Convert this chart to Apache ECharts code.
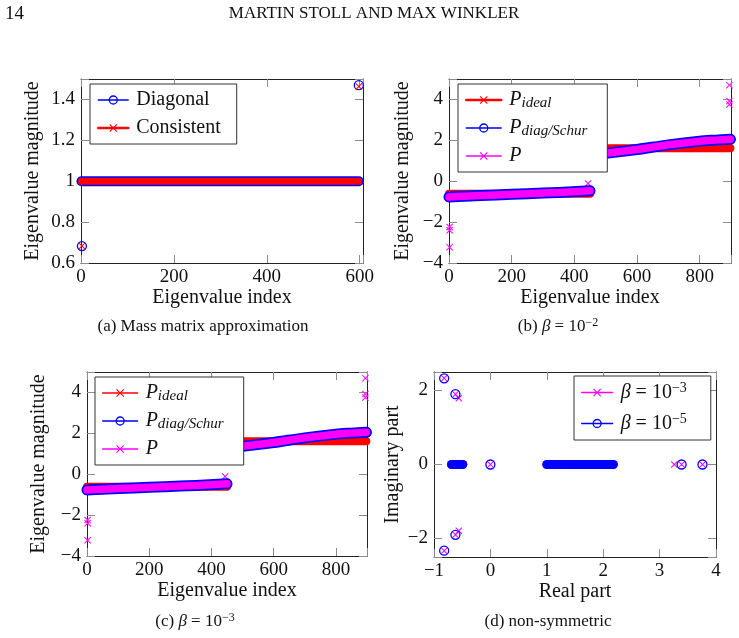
<!DOCTYPE html>
<html>
<head>
<meta charset="utf-8">
<style>
  html, body { margin: 0; padding: 0; background: #fff; }
  #chart { width: 739px; height: 638px; }
</style>
<script src="https://cdn.jsdelivr.net/npm/echarts@6/dist/echarts.min.js"></script>
</head>
<body>
<div id="chart"></div>
<script>
var FONT = '"Liberation Serif", "DejaVu Serif", serif';
var RED = '#ff0000', BLUE = '#0000ff', MAG = '#ff00ff';
var CROSS = 'path://M0,1L1,0L5,4L9,0L10,1L6,5L10,9L9,10L5,6L1,10L0,9L4,5Z';

// (a) mass matrix approximation: dense run of eigenvalues at 1 plus two outliers
var massBand = [[1, 1], [598, 1]];
var diagOut = [[2, 0.683], [598, 1.47]];
var consOut = [[2, 0.683], [598, 1.463]];

// (b) and (c): key points read along the dense eigenvalue bands
var idealNeg = [[0, -0.618], [450, -0.618]];
var idealPos = [[450, 1.618], [898, 1.618]];
var diagNeg = [[0, -0.77], [50, -0.73], [150, -0.67], [250, -0.61], [350, -0.55], [450, -0.47]];
var diagPos = [[450, 1.3], [520, 1.4], [600, 1.55], [700, 1.78], [800, 1.96], [850, 2.01], [898, 2.05]];
var diagEnds = [[0, -0.77], [450, -0.47], [898, 2.05]];
var pOut = [[2, -2.24], [2, -2.4], [2, -3.23], [444, -0.11], [895, 3.75], [895, 3.92], [895, 4.7]];

// (d) non-symmetric: real/imaginary parts
var clusterL = [[-0.69, 0], [-0.49, 0]];
var clusterR = [[1.0, 0], [2.18, 0]];
var b3Pts = [[-0.82, 2.33], [-0.62, 1.9], [-0.56, 1.79], [-0.82, -2.33], [-0.62, -1.9], [-0.56, -1.79],
             [0, 0], [3.26, 0], [3.39, 0], [3.76, 0]];
var b5Pts = [[-0.82, 2.33], [-0.62, 1.9], [-0.62, -1.9], [-0.82, -2.33], [0, 0], [3.39, 0], [3.76, 0]];

var grids = [
  {left: 81, top: 79, width: 282, height: 184},
  {left: 449, top: 79, width: 282, height: 184},
  {left: 87, top: 372, width: 280, height: 184},
  {left: 434, top: 372, width: 282, height: 185}
];

function tickFmt(step) {
  return function (v) {
    var r = v / step;
    if (Math.abs(r - Math.round(r)) > 1e-6) return '';
    return String(parseFloat(v.toFixed(2))).replace('-', '\u2212');
  };
}

var xAxes = [], yAxes = [];
var nameStyle = {fontFamily: FONT, fontSize: 20, color: '#111'};

function addAxes(gi, xs, ys, xName, yName, yGap) {
  function base(pos, s) {
    return {
      gridIndex: gi, type: 'value', position: pos,
      min: s.min, max: s.max, interval: s.interval, splitNumber: s.split,
      splitLine: {show: false},
      axisLine: {show: true, onZero: false, lineStyle: {color: '#222', width: 1}},
      axisTick: {show: true, inside: true, length: 8, lineStyle: {color: '#8c8c8c', width: 1}},
      axisLabel: {show: false}
    };
  }
  var xb = base('bottom', xs);
  xb.axisLabel = {show: true, margin: 5, color: '#111', fontFamily: FONT, fontSize: 19, formatter: tickFmt(xs.step)};
  xb.name = xName; xb.nameLocation = 'middle'; xb.nameGap = 24; xb.nameTextStyle = nameStyle;
  var yl = base('left', ys);
  yl.axisLabel = {show: true, margin: 6, color: '#111', fontFamily: FONT, fontSize: 19, formatter: tickFmt(ys.step)};
  yl.name = yName; yl.nameLocation = 'middle'; yl.nameGap = yGap; yl.nameTextStyle = nameStyle;
  xAxes.push(xb, base('top', xs));
  yAxes.push(yl, base('right', ys));
}

addAxes(0, {min: 0, max: 607, interval: 200, step: 200}, {min: 0.6, max: 1.5, interval: 0.2, step: 0.2},
  'Eigenvalue index', 'Eigenvalue magnitude', 38);
addAxes(1, {min: 0, max: 900, interval: 200, step: 200}, {min: -4, max: 5, interval: 2, step: 2},
  'Eigenvalue index', 'Eigenvalue magnitude', 36);
addAxes(2, {min: 0, max: 900, interval: 200, step: 200}, {min: -4, max: 5, interval: 2, step: 2},
  'Eigenvalue index', 'Eigenvalue magnitude', 38);
addAxes(3, {min: -1, max: 4, interval: 1, step: 1}, {min: -2.5, max: 2.5, split: 3, step: 2},
  'Real part', 'Imaginary part', 31);

function band(gi, data, color, width, name, symbol) {
  return {
    type: 'line', name: name, xAxisIndex: 2 * gi, yAxisIndex: 2 * gi, data: data,
    symbol: symbol || 'none', showSymbol: false, smooth: 0.3, clip: false, silent: true,
    color: color,
    lineStyle: {color: color, width: width, cap: 'round', join: 'round'},
    itemStyle: {color: color}
  };
}
function circles(gi, data) {
  return {
    type: 'scatter', xAxisIndex: 2 * gi, yAxisIndex: 2 * gi, data: data, clip: false, silent: true,
    symbol: 'circle', symbolSize: 9,
    itemStyle: {color: 'rgba(0,0,0,0)', borderColor: BLUE, borderWidth: 1.3, opacity: 1}
  };
}
function crosses(gi, data, color) {
  return {
    type: 'scatter', xAxisIndex: 2 * gi, yAxisIndex: 2 * gi, data: data, clip: false, silent: true,
    symbol: CROSS, symbolSize: 7,
    itemStyle: {color: color, opacity: 1}
  };
}

var series = [
  // (a)
  band(0, massBand, BLUE, 10, 'Diagonal', 'circle'),
  band(0, massBand, RED, 7, 'Consistent', CROSS),
  circles(0, diagOut),
  crosses(0, consOut, RED)
];
// (b) and (c) share the same eigenvalue data
[1, 2].forEach(function (gi) {
  var tag = gi === 1 ? 'b' : 'c';
  series.push(
    band(gi, idealNeg, RED, 8, 'ideal_' + tag, CROSS),
    band(gi, idealPos, RED, 8),
    band(gi, diagNeg, BLUE, 11, 'diag_' + tag, 'circle'),
    band(gi, diagPos, BLUE, 11),
    circles(gi, diagEnds),
    band(gi, diagNeg, MAG, 7.5, 'P_' + tag, CROSS),
    band(gi, diagPos, MAG, 7.5),
    crosses(gi, pOut, MAG)
  );
});
// (d)
series.push(
  band(3, clusterL, MAG, 9, 'b3', CROSS),
  band(3, clusterR, MAG, 9),
  crosses(3, b3Pts, MAG),
  band(3, clusterL, BLUE, 9, 'b5', 'circle'),
  band(3, clusterR, BLUE, 9),
  circles(3, b5Pts)
);

var legendText = {
  'Diagonal': 'Diagonal',
  'Consistent': 'Consistent',
  'ideal_b': '{it|P}{sub|ideal}', 'diag_b': '{it|P}{sub|diag/Schur}', 'P_b': '{it|P}',
  'ideal_c': '{it|P}{sub|ideal}', 'diag_c': '{it|P}{sub|diag/Schur}', 'P_c': '{it|P}',
  'b3': '{it|\u03b2}{rm| = 10}{sup|\u22123}', 'b5': '{it|\u03b2}{rm| = 10}{sup|\u22125}'
};
var richText = {
  it: {fontFamily: FONT, fontStyle: 'italic', fontSize: 20, lineHeight: 22},
  rm: {fontFamily: FONT, fontSize: 20, lineHeight: 22},
  sub: {fontFamily: FONT, fontStyle: 'italic', fontSize: 15, lineHeight: 15, padding: [7, 0, 0, 0]},
  sup: {fontFamily: FONT, fontSize: 14, lineHeight: 14, padding: [0, 0, 9, 0]}
};
function crossItem(name, c, w) {
  return {name: name, itemStyle: {color: c, borderWidth: 0}, lineStyle: {color: c, width: w || 1.3}};
}
function circleItem(name, c) {
  return {name: name, itemStyle: {color: 'rgba(0,0,0,0)', borderColor: c, borderWidth: 1.3},
    lineStyle: {color: c, width: 1.3}};
}
function legendBox(left, top, itemWidth, gap, padRight, data) {
  return {
    orient: 'vertical', left: left, top: top, data: data, selectedMode: false,
    itemWidth: itemWidth, itemHeight: 10, itemGap: gap,
    padding: [5, padRight, 5, 7], backgroundColor: '#fff', borderColor: '#333', borderWidth: 1, borderRadius: 0,
    formatter: function (n) { return legendText[n]; },
    textStyle: {fontFamily: FONT, fontSize: 20, lineHeight: 22, color: '#111', padding: [0, 0, 0, 3], rich: richText}
  };
}

var legends = [
  legendBox(90, 84, 30, 6, 16, [circleItem('Diagonal', BLUE), crossItem('Consistent', RED, 2.5)]),
  legendBox(458, 84, 35, 6, 20, [crossItem('ideal_b', RED, 2.5), circleItem('diag_b', BLUE), crossItem('P_b', MAG)]),
  legendBox(95, 377, 35, 6, 20, [crossItem('ideal_c', RED), circleItem('diag_c', BLUE), crossItem('P_c', MAG)]),
  legendBox(574, 376, 31, 8, 24, [crossItem('b3', MAG), circleItem('b5', BLUE)])
];

var capRich = {
  it: {fontFamily: FONT, fontStyle: 'italic', fontSize: 17, lineHeight: 19},
  sup: {fontFamily: FONT, fontSize: 12, lineHeight: 12, padding: [0, 0, 8, 0]}
};
function caption(x, y, text) {
  return {type: 'text', x: x, y: y, silent: true,
    style: {text: text, fontFamily: FONT, fontSize: 17, fill: '#111', align: 'center', verticalAlign: 'middle', rich: capRich}};
}

var chart = echarts.init(document.getElementById('chart'), null, {renderer: 'canvas'});
chart.setOption({
  animation: false,
  backgroundColor: '#fff',
  grid: grids,
  xAxis: xAxes,
  yAxis: yAxes,
  legend: legends,
  series: series,
  graphic: [
    {type: 'text', x: 5, y: 14, silent: true,
      style: {text: '14', fontFamily: FONT, fontSize: 19, fill: '#111', align: 'left', verticalAlign: 'middle'}},
    {type: 'text', x: 374, y: 14, silent: true,
      style: {text: 'MARTIN STOLL AND MAX WINKLER', fontFamily: FONT, fontSize: 17, fill: '#111', align: 'center', verticalAlign: 'middle'}},
    caption(203, 327, '(a) Mass matrix approximation'),
    caption(558, 327, '(b) {it|\u03b2} = 10{sup|\u22122}'),
    caption(195, 622, '(c) {it|\u03b2} = 10{sup|\u22123}'),
    caption(548, 622, '(d) non-symmetric')
  ]
});
</script>
</body>
</html>
